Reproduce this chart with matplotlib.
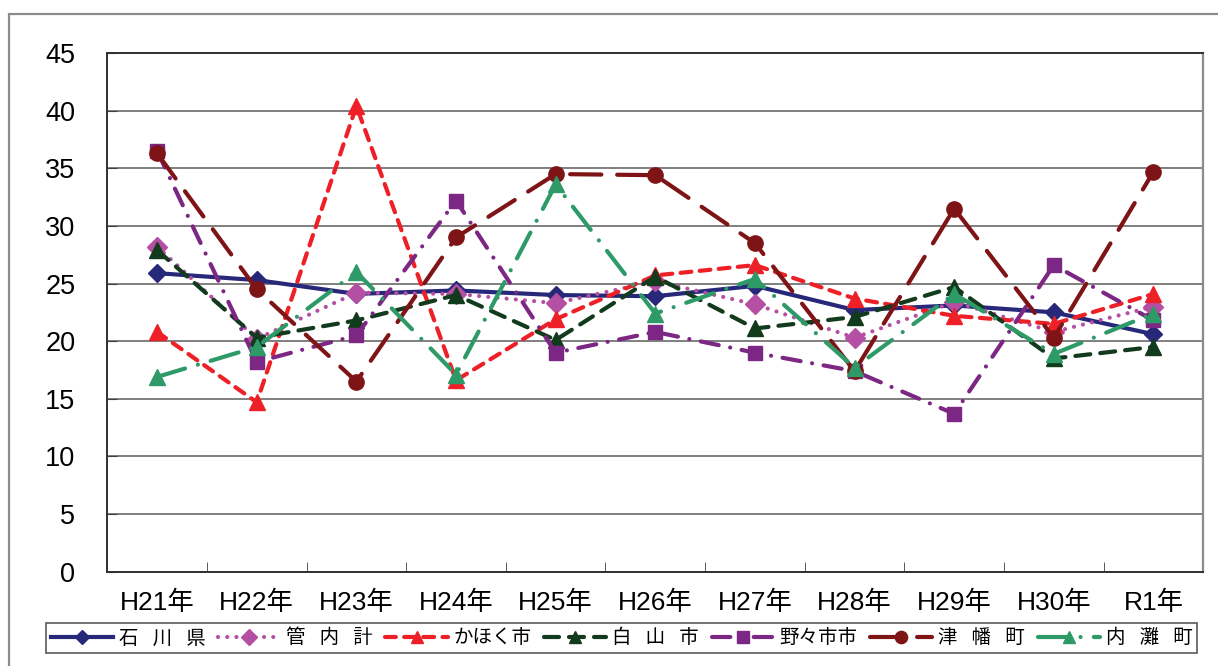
import matplotlib
matplotlib.use("Agg")
import matplotlib.pyplot as plt
from matplotlib.patches import Rectangle

plt.rcParams['font.family'] = ['Liberation Sans', 'Noto Sans CJK JP', 'DejaVu Sans']

# カテゴリ（年度）
years = ["H21年", "H22年", "H23年", "H24年", "H25年", "H26年",
         "H27年", "H28年", "H29年", "H30年", "R1年"]

# 各系列の値
ishikawa = [25.9, 25.3, 24.1, 24.4, 24.0, 23.9, 24.8, 22.7, 23.1, 22.5, 20.6]
kannai = [28.2, 20.2, 24.2, 24.1, 23.3, 25.2, 23.2, 20.3, 23.4, 20.8, 23.0]
kahoku = [20.8, 14.7, 40.4, 16.6, 21.9, 25.7, 26.6, 23.7, 22.2, 21.5, 24.1]
hakusan = [27.9, 20.3, 21.8, 24.0, 20.1, 25.6, 21.1, 22.1, 24.7, 18.5, 19.5]
nonoichi = [36.5, 18.2, 20.5, 32.2, 19.0, 20.8, 19.0, 17.4, 13.7, 26.6, 21.8]
tsubata = [36.3, 24.5, 16.5, 29.0, 34.5, 34.4, 28.5, 17.4, 31.5, 20.3, 34.7]
uchinada = [16.9, 19.5, 26.0, 17.1, 33.6, 22.4, 25.4, 17.7, 24.1, 18.9, 22.4]

sp = "\u2002 "
labels = [sp.join("石川県"), sp.join("管内計"), "かほく市", sp.join("白山市"),
          "野々市市", sp.join("津幡町"), sp.join("内灘町")]

# 系列ごとの見た目
styles = [
    dict(color="#27287a", ls="-", marker="D", ms=9),
    dict(color="#b44fa3", ls=(0, (0.01, 2.2)), marker="D", ms=10),
    dict(color="#ee2027", ls=(0, (2.6, 2.0)), marker="^", ms=11),
    dict(color="#123a1c", ls=(0, (3.6, 2.4)), marker="^", ms=11),
    dict(color="#7c2784", ls=(0, (4.4, 2.8, 0.01, 2.8)), marker="s", ms=10),
    dict(color="#7e1416", ls=(0, (7.5, 3.8)), marker="o", ms=11),
    dict(color="#2e9a67", ls=(0, (7.0, 3.2, 0.01, 3.2)), marker="^", ms=11),
]
series = [ishikawa, kannai, kahoku, hakusan, nonoichi, tsubata, uchinada]

fig = plt.figure(figsize=(12.18, 6.66), dpi=100)
fig.patches.append(Rectangle((9 / 1218, -0.05), 1.1, 1 - 14 / 666 + 0.05,
                             transform=fig.transFigure, fill=False,
                             edgecolor="#8c8c8c", lw=1.6))

ax = fig.add_axes([107.3 / 1218, 1 - 571.7 / 666,
                   (1203.3 - 107.3) / 1218, (571.7 - 53) / 666])

x = list(range(len(years)))
for vals, lab, st in zip(series, labels, styles):
    ax.plot(x, vals, color=st["color"], linestyle=st["ls"], lw=3.0,
            marker=st["marker"], markersize=st["ms"],
            markerfacecolor=st["color"], markeredgecolor=st["color"],
            dash_capstyle="round", label=lab)

ax.set_xlim(-0.5, len(years) - 0.5)
ax.set_ylim(0, 45)
ax.set_yticks(range(0, 46, 5))
ax.yaxis.grid(True, color="#7f7f7f", lw=1.4)
ax.set_axisbelow(True)

ax.set_xticks(x)
ax.set_xticklabels(years)
ax.set_xticks([i + 0.5 for i in x[:-1]], minor=True)
ax.tick_params(axis="x", which="major", length=0, pad=14, labelsize=19)
ax.tick_params(axis="x", which="minor", length=7, direction="in", color="#404040")
ax.tick_params(axis="y", length=7, direction="in", pad=23, labelsize=19.5,
               color="#404040")

for side in ["left", "bottom", "top"]:
    ax.spines[side].set_color("#303030")
    ax.spines[side].set_linewidth(1.4)
ax.spines["right"].set_color("#8c8c8c")
ax.spines["right"].set_linewidth(1.6)

leg = fig.legend(loc="lower left",
                 bbox_to_anchor=(36 / 1218, 1 - 663 / 666, (1207 - 36) / 1218, 36 / 666),
                 mode="expand", ncol=7, frameon=True, fancybox=False,
                 edgecolor="#303030", handlelength=3.2, handletextpad=0.3,
                 columnspacing=0.6, borderpad=0.25, markerscale=0.8,
                 prop={"family": ["Noto Sans CJK JP", "DejaVu Sans"], "size": 14})
leg.get_frame().set_linewidth(1.2)

fig.savefig("out.png", dpi=100, facecolor="white")
